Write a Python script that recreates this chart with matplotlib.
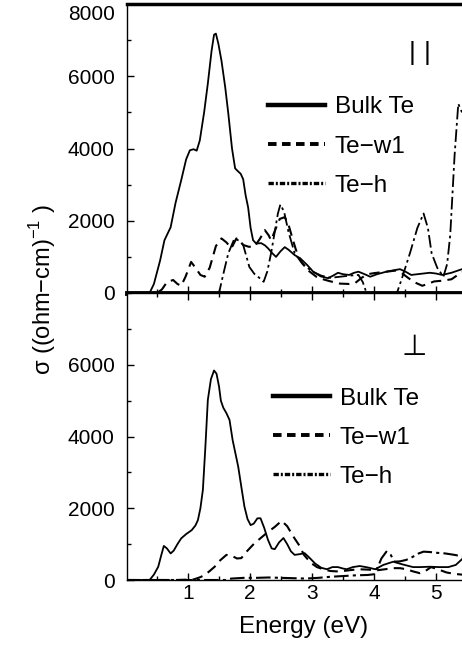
import numpy as np
import matplotlib.pyplot as plt
import matplotlib.transforms as mtransforms
from matplotlib.lines import Line2D
from matplotlib.ticker import MultipleLocator

plt.rcParams['font.family'] = ['Liberation Sans', 'DejaVu Sans']
plt.rcParams['mathtext.fontset'] = 'custom'
plt.rcParams['mathtext.rm'] = 'Liberation Sans'

# parallel polarisation (top panel)
par_bulk_e = [0.0, 0.38, 0.45, 0.55, 0.62, 0.72, 0.80, 0.89, 0.97, 1.03, 1.09, 1.14, 1.19, 1.26, 1.32,
              1.38, 1.42, 1.45, 1.49, 1.54, 1.60, 1.65, 1.71, 1.76, 1.80, 1.85, 1.89, 1.93, 1.97, 2.01,
              2.05, 2.10, 2.18, 2.24, 2.29, 2.36, 2.42, 2.49, 2.56, 2.62, 2.72, 2.81, 2.92, 3.02, 3.14,
              3.26, 3.34, 3.42, 3.50, 3.60, 3.68, 3.75, 3.85, 3.94, 4.05, 4.20, 4.32, 4.42, 4.52, 4.60,
              4.75, 4.90, 5.00, 5.10, 5.25, 5.42]
par_bulk_s = [0, 0, 250, 900, 1460, 1820, 2500, 3120, 3700, 3950, 3980, 3940, 4220, 5000, 5800,
              6700, 7150, 7180, 6900, 6430, 5700, 4970, 4000, 3450, 3380, 3300, 3150, 2700, 2370, 1800,
              1460, 1370, 1380, 1320, 1240, 1100, 1000, 1150, 1270, 1200, 1050, 960, 780, 590, 460,
              410, 480, 560, 520, 500, 560, 590, 520, 450, 520, 590, 630, 660, 580, 500,
              530, 560, 540, 500, 560, 660]

par_w1_e = [0.0, 0.50, 0.58, 0.66, 0.76, 0.83, 0.89, 0.96, 1.05, 1.12, 1.20, 1.27, 1.35, 1.45, 1.54,
            1.62, 1.70, 1.78, 1.84, 1.89, 1.98, 2.07, 2.16, 2.24, 2.30, 2.34, 2.42, 2.48, 2.56, 2.62,
            2.67, 2.74, 2.81, 2.92, 3.07, 3.18, 3.28, 3.45, 3.60, 3.70, 3.80, 3.90, 4.00, 4.20, 4.35,
            4.45, 4.55, 4.65, 4.78, 4.88, 4.97, 5.10, 5.25, 5.42]
par_w1_s = [0, 0, 100, 300, 360, 250, 200, 450, 860, 700, 500, 450, 700, 1300, 1510,
            1400, 1240, 1510, 1450, 1330, 1280, 1280, 1500, 1740, 1600, 1460, 1800, 2050, 2100, 1900,
            1600, 1200, 910, 650, 450, 380, 330, 260, 250, 280, 420, 520, 550, 590, 620,
            550, 420, 300, 200, 260, 320, 340, 380, 580]

par_h_e = [0.0, 1.50, 1.58, 1.65, 1.75, 1.82, 1.89, 1.99, 2.07, 2.13, 2.22, 2.28, 2.34, 2.40, 2.45,
           2.49, 2.55, 2.62, 2.72, 2.85, 3.00, 3.15, 3.30, 3.45, 3.60, 3.75, 3.82, 3.88, 4.37, 4.45,
           4.58, 4.70, 4.80, 4.87, 4.93, 5.02, 5.12, 5.18, 5.23, 5.30, 5.36, 5.42]
par_h_s = [0, 0, 600, 1100, 1510, 1450, 1330, 720, 530, 450, 310, 600, 1100, 1700, 2200,
           2450, 2250, 1700, 1100, 800, 600, 480, 420, 450, 480, 500, 300, 0, 0, 400,
           1100, 1800, 2200, 1800, 1100, 700, 450, 800, 1600, 3800, 5240, 5000]

# perpendicular polarisation (bottom panel)
perp_bulk_e = [0.0, 0.38, 0.45, 0.52, 0.57, 0.61, 0.66, 0.72, 0.77, 0.83, 0.89, 0.97, 1.06, 1.12, 1.16,
               1.20, 1.24, 1.28, 1.32, 1.37, 1.42, 1.46, 1.50, 1.53, 1.57, 1.62, 1.67, 1.72, 1.81, 1.86,
               1.91, 1.96, 2.01, 2.06, 2.12, 2.17, 2.23, 2.29, 2.35, 2.40, 2.47, 2.54, 2.60, 2.66, 2.72,
               2.80, 2.88, 2.96, 3.05, 3.15, 3.24, 3.33, 3.42, 3.50, 3.56, 3.66, 3.77, 3.90, 4.02, 4.15,
               4.31, 4.45, 4.63, 4.75, 4.90, 5.05, 5.20, 5.32, 5.42]
perp_bulk_s = [0, 0, 150, 370, 700, 950, 880, 740, 820, 1000, 1160, 1280, 1390, 1520, 1670,
               2000, 2510, 3700, 5020, 5600, 5840, 5750, 5400, 5000, 4800, 4650, 4460, 3900, 3160, 2600,
               2050, 1700, 1530, 1570, 1720, 1720, 1450, 1120, 880, 860, 1050, 1170, 1000, 800, 700,
               720, 750, 620, 460, 340, 300, 360, 360, 320, 300, 360, 390, 350, 300, 420,
               510, 440, 360, 360, 370, 360, 360, 420, 580]

perp_w1_e = [0.0, 0.80, 1.00, 1.10, 1.20, 1.27, 1.35, 1.43, 1.52, 1.62, 1.70, 1.79, 1.86, 1.95, 2.07,
             2.18, 2.29, 2.40, 2.51, 2.60, 2.70, 2.80, 2.87, 2.98, 3.08, 3.18, 3.30, 3.40, 3.55, 3.74,
             3.90, 4.05, 4.18, 4.31, 4.42, 4.52, 4.63, 4.74, 4.83, 4.92, 5.03, 5.17, 5.30, 5.42]
perp_w1_s = [0, 0, 10, 20, 80, 140, 250, 370, 550, 700, 680, 600, 610, 800, 1020,
             1180, 1340, 1480, 1650, 1500, 1210, 950, 700, 480, 360, 300, 250, 240, 260, 300,
             290, 270, 300, 330, 330, 300, 240, 190, 250, 360, 300, 210, 170, 150]

perp_h_e = [0.0, 1.60, 1.70, 1.90, 2.10, 2.30, 2.50, 2.70, 2.90, 3.10, 3.30, 3.50, 3.70, 3.90, 4.00,
            4.06, 4.12, 4.20, 4.27, 4.33, 4.42, 4.52, 4.62, 4.72, 4.80, 4.90, 5.00, 5.15, 5.30, 5.42]
perp_h_s = [0, 0, 40, 60, 60, 70, 60, 50, 40, 60, 90, 110, 130, 140, 160,
            350, 600, 790, 700, 510, 520, 560, 640, 740, 790, 780, 760, 740, 700, 660]

labels = ['Bulk Te', 'Te\u2212w1', 'Te\u2212h']

w1_dash = (0, (5, 3))
h_dash = (0, (7, 2, 1.5, 2))

fig = plt.figure(figsize=(4.62, 6.49), dpi=100)
left = 127 / 462
width = 1 - left
ax1 = fig.add_axes([left, 1 - 293 / 649, width, (293 - 4) / 649])
ax2 = fig.add_axes([left, 1 - 580 / 649, width, (580 - 293) / 649])

ax1.plot(par_bulk_e, par_bulk_s, color='black', lw=1.3)
ax1.plot(par_w1_e, par_w1_s, color='black', lw=1.5, linestyle=w1_dash)
ax1.plot(par_h_e, par_h_s, color='black', lw=1.3, linestyle=h_dash)

ax2.plot(perp_bulk_e, perp_bulk_s, color='black', lw=1.3)
ax2.plot(perp_w1_e, perp_w1_s, color='black', lw=1.5, linestyle=w1_dash)
ax2.plot(perp_h_e, perp_h_s, color='black', lw=1.5, linestyle=h_dash)

handles = [Line2D([], [], color='black', lw=3.2),
           Line2D([], [], color='black', lw=2.8, linestyle=(0, (2.2, 1.4))),
           Line2D([], [], color='black', lw=2.4, linestyle=(0, (1.6, 0.6, 0.6, 0.6)))]

for ax, anchor in ((ax1, (0.42, 0.68)), (ax2, (0.436, 0.67))):
    ax.set_xlim(0.016, 5.42)
    ax.set_ylim(0, 8000)
    ax.xaxis.set_major_locator(MultipleLocator(1))
    ax.xaxis.set_minor_locator(MultipleLocator(0.5))
    ax.yaxis.set_minor_locator(MultipleLocator(1000))
    ax.tick_params(which='both', direction='in', width=1, labelsize=15)
    ax.tick_params(which='major', length=5)
    ax.tick_params(which='minor', length=3)
    ax.tick_params(axis='y', pad=9)
    ax.tick_params(axis='x', pad=3)
    ax.spines['right'].set_visible(False)
    ax.spines['left'].set_linewidth(1)
    ax.legend(handles, labels, loc='upper left', bbox_to_anchor=anchor, frameon=False,
              fontsize=17.5, handlelength=2.35, handletextpad=0.4, labelspacing=0.7,
              borderpad=0, borderaxespad=0)

ax1.set_yticks([0, 2000, 4000, 6000, 8000])
ax1.tick_params(axis='x', labelbottom=False)
ax1.spines['top'].set_linewidth(2.5)
ax1.spines['bottom'].set_linewidth(3.5)
# the top label sits a little lower than its tick, as in the figure
shift = mtransforms.ScaledTranslation(0, -9 / 100, fig.dpi_scale_trans)
top_label = ax1.get_yticklabels()[-1]
top_label.set_transform(top_label.get_transform() + shift)

ax2.set_yticks([0, 2000, 4000, 6000])
ax2.tick_params(which='both', axis='x', top=True)
ax2.spines['top'].set_linewidth(1)
ax2.spines['bottom'].set_linewidth(1)
ax2.set_xlabel('Energy (eV)', fontsize=17.5, labelpad=9)
ax2.xaxis.label.set_x((304 - 127) / 335)

ax1.text((412 - 127) / 335, 0.83, '|', transform=ax1.transAxes, fontsize=19, ha='center', va='center')
ax1.text((427 - 127) / 335, 0.83, '|', transform=ax1.transAxes, fontsize=19, ha='center', va='center')
ax2.text((414 - 127) / 335, 0.812, '\u22a5', transform=ax2.transAxes, fontsize=21, ha='center',
         va='center', family='DejaVu Sans')

fig.text(43 / 462, 1 - 290 / 649, 'σ ((ohm\u2212cm)$^{\\mathrm{\u22121}}$ )', rotation=90,
         fontsize=17, ha='center', va='center')

fig.savefig('out.png', dpi=100)
